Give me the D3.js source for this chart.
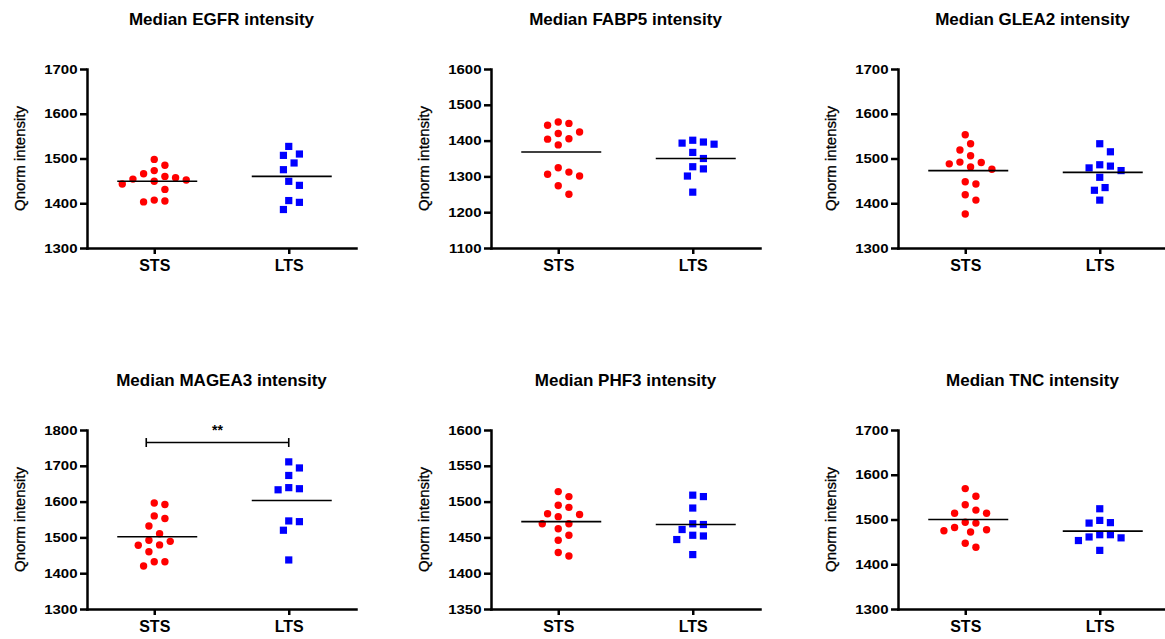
<!DOCTYPE html>
<html>
<head>
<meta charset="utf-8">
<script src="https://cdn.jsdelivr.net/npm/d3@7"></script>
<style>
  body { margin: 0; background: #fff; }
  svg { display: block; }
  text { font-family: Arial, "Liberation Sans", sans-serif; fill: #000; }
</style>
</head>
<body>
<svg id="chart" width="1165" height="639"></svg>
<script>
// ---- data ----
var groups = ['STS', 'LTS'];
var genes = ['EGFR', 'FABP5', 'GLEA2', 'MAGEA3', 'PHF3', 'TNC'];
var yDomains = [[1300, 1700], [1100, 1600], [1300, 1700], [1300, 1800], [1350, 1600], [1300, 1700]];
var yTickSteps = [100, 100, 100, 100, 50, 100];

var stsValues = [
  [1498, 1485, 1466, 1473, 1452, 1457, 1460, 1454, 1449, 1443, 1431, 1407, 1403, 1405],
  [1448, 1452, 1443, 1424, 1420, 1405, 1404, 1388, 1324, 1306, 1301, 1312, 1274, 1250],
  [1553, 1533, 1519, 1506, 1491, 1492, 1488, 1481, 1476, 1448, 1443, 1419, 1407, 1376],
  [1592, 1596, 1553, 1560, 1532, 1510, 1489, 1492, 1478, 1479, 1460, 1432, 1432, 1420],
  [1514, 1507, 1492, 1495, 1482, 1483, 1479, 1469, 1469, 1462, 1453, 1446, 1429, 1424],
  [1569, 1552, 1533, 1521, 1514, 1514, 1494, 1492, 1482, 1475, 1472, 1477, 1447, 1438]
];
var ltsValues = [
  [1527, 1510, 1507, 1490, 1475, 1449, 1440, 1406, 1402, 1386],
  [1401, 1393, 1396, 1390, 1367, 1350, 1321, 1327, 1301, 1256],
  [1533, 1515, 1483, 1486, 1473, 1479, 1458, 1435, 1429, 1407],
  [1711, 1694, 1673, 1639, 1633, 1636, 1544, 1546, 1520, 1437],
  [1509, 1507, 1491, 1468, 1469, 1461, 1452, 1453, 1447, 1426],
  [1524, 1498, 1493, 1492, 1466, 1466, 1461, 1459, 1453, 1431]
];
var stsLine = [1449, 1368, 1473, 1502, 1472, 1500];
var ltsLine = [1460, 1350, 1469, 1603, 1468, 1474];

var brackets = [{ gene: 'MAGEA3', from: 'STS', to: 'LTS', value: 1765, label: '**' }];

// ---- layout ----
var svg = d3.select('#chart');
var colX = [87, 491, 898], rowY = [69, 430];
var w = 269, h = 179;
var step = 5.33, minDist = 10.3;   // swarm spacing
var tickStretch = 1.2;             // tick numbers are drawn wide in the figure
var colors = { STS: '#ff0000', LTS: '#0000ff' };

// simple beeswarm: biggest value first, nearest free slot to the centre
function swarm(values, y, cx) {
  var placed = [], out = [];
  var order = values.map(function(v, k) { return k; })
    .sort(function(a, b) { return values[b] - values[a]; });
  order.forEach(function(k) {
    var py = y(values[k]);
    for (var s = 0; s < 40; s++) {
      var slot = s === 0 ? 0 : (s % 2 ? (s + 1) / 2 : -s / 2);
      var px = cx + slot * step;
      var free = placed.every(function(p) { return Math.hypot(p[0] - px, p[1] - py) >= minDist; });
      if (free) { placed.push([px, py]); out[k] = [px, py]; break; }
    }
  });
  return out;
}

genes.forEach(function(gene, i) {
  var g = svg.append('g')
    .attr('transform', 'translate(' + colX[i % 3] + ',' + rowY[Math.floor(i / 3)] + ')');

  var y = d3.scaleLinear().domain(yDomains[i]).range([h, 0]);
  var x = d3.scalePoint().domain(groups).range([0, w]).padding(0.5);
  var ticks = d3.range(yDomains[i][0], yDomains[i][1] + 1, yTickSteps[i]);

  // title
  g.append('text')
    .attr('x', w / 2).attr('y', -44.5)
    .attr('text-anchor', 'middle')
    .attr('font-size', '17px').attr('font-weight', 'bold')
    .text('Median ' + gene + ' intensity');

  // y axis
  var ya = g.append('g')
    .call(d3.axisLeft(y).tickValues(ticks).tickFormat(d3.format('d')).tickSize(7).tickPadding(2.5).tickSizeOuter(0));
  ya.selectAll('text')
    .attr('font-size', '12.5px').attr('font-weight', 'bold').attr('fill', '#000')
    .attr('x', -9.5 / tickStretch)
    .attr('transform', 'scale(' + tickStretch + ',1)');

  // x axis
  var xa = g.append('g')
    .attr('transform', 'translate(0,' + h + ')')
    .call(d3.axisBottom(x).tickSize(6).tickPadding(6).tickSizeOuter(0));
  xa.selectAll('text').attr('font-size', '16px').attr('font-weight', 'bold').attr('fill', '#000');

  [ya, xa].forEach(function(a) {
    a.select('.domain').attr('stroke', '#000').attr('stroke-width', 2.5).attr('stroke-linecap', 'square');
    a.selectAll('.tick line').attr('stroke', '#000').attr('stroke-width', 2.5);
  });

  // y label
  g.append('text')
    .attr('transform', 'translate(-62,' + (h / 2) + ') rotate(-90)')
    .attr('text-anchor', 'middle')
    .attr('font-size', '15px')
    .attr('stroke', '#000').attr('stroke-width', 0.3)
    .text('Qnorm intensity');

  // points
  var sets = { STS: stsValues[i], LTS: ltsValues[i] };
  var pos = {
    STS: swarm(sets.STS, y, x('STS')),
    LTS: swarm(sets.LTS, y, x('LTS'))
  };

  g.selectAll('circle.sts').data(pos.STS).enter().append('circle')
    .attr('class', 'sts')
    .attr('cx', function(d) { return d[0]; })
    .attr('cy', function(d) { return d[1]; })
    .attr('r', 3.7)
    .attr('fill', colors.STS);

  g.selectAll('rect.lts').data(pos.LTS).enter().append('rect')
    .attr('class', 'lts')
    .attr('x', function(d) { return d[0] - 3.6; })
    .attr('y', function(d) { return d[1] - 3.6; })
    .attr('width', 7.2).attr('height', 7.2)
    .attr('fill', colors.LTS);

  // centre lines
  var lines = [{ grp: 'STS', v: stsLine[i] }, { grp: 'LTS', v: ltsLine[i] }];
  g.selectAll('line.mid').data(lines).enter().append('line')
    .attr('class', 'mid')
    .attr('x1', function(d) { return x(d.grp) + 3 - 40; })
    .attr('x2', function(d) { return x(d.grp) + 3 + 40; })
    .attr('y1', function(d) { return y(d.v); })
    .attr('y2', function(d) { return y(d.v); })
    .attr('stroke', '#000').attr('stroke-width', 1.6);

  // significance bracket
  brackets.filter(function(b) { return b.gene === gene; }).forEach(function(b) {
    var x1 = x(b.from) - 8, x2 = x(b.to), by = y(b.value);
    var bg = g.append('g').attr('stroke', '#000').attr('stroke-width', 1.6);
    bg.append('line').attr('x1', x1).attr('x2', x2).attr('y1', by).attr('y2', by);
    bg.append('line').attr('x1', x1).attr('x2', x1).attr('y1', by - 4.5).attr('y2', by + 4.5);
    bg.append('line').attr('x1', x2).attr('x2', x2).attr('y1', by - 4.5).attr('y2', by + 4.5);
    g.append('text')
      .attr('x', (x1 + x2) / 2).attr('y', by - 7.5)
      .attr('text-anchor', 'middle')
      .attr('font-size', '14px').attr('font-weight', 'bold')
      .text(b.label);
  });
});
</script>
</body>
</html>
